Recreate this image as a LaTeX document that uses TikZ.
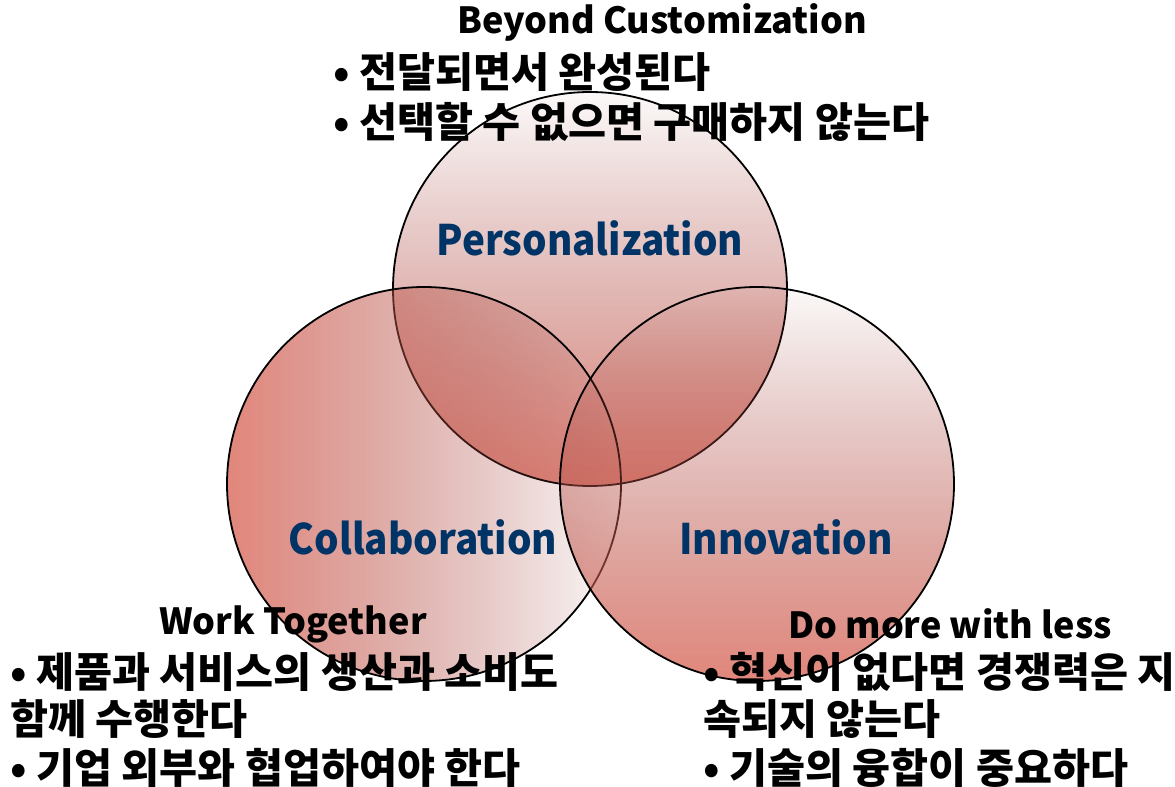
\documentclass[tikz,border=0pt]{standalone}
\usepackage{fontspec}
\setmainfont{Noto Sans CJK KR}
\newfontfamily\narrowfont{Noto Sans CJK KR}[FakeStretch=0.92]
\usetikzlibrary{positioning, fadings}

\definecolor{vennred}{RGB}{218,104,90}
\definecolor{venndark}{RGB}{150,62,58}
\definecolor{keyblue}{RGB}{0,51,102}

\tikzfading[name=fadedown, top color=transparent!97, middle color=transparent!58, bottom color=transparent!20]
\tikzfading[name=fadeleft, left color=transparent!20, middle color=transparent!58, right color=transparent!97]

\tikzset{
    vline/.style={draw=black, line width=1.35pt},
    vdown/.style={top color=venndark, middle color=venndark, bottom color=vennred, path fading=fadedown},
    vleft/.style={left color=vennred, middle color=venndark, right color=venndark, path fading=fadeleft},
    head/.style={font=\bfseries\fontsize{27}{32}\selectfont},
    item/.style={anchor=west, inner sep=0pt, font=\bfseries\fontsize{31}{36}\selectfont},
    keyword/.style={text=keyblue, font=\narrowfont\bfseries\fontsize{31.5}{38}\selectfont}
}

\begin{document}
\begin{tikzpicture}[x=0.75pt, y=-0.75pt]
    \useasboundingbox (0, 0) rectangle (1175, 787);

    \shade [vdown] (590, 289) circle (197);
    \draw [vline] (590, 289) circle (197);
    \shade [vleft] (424, 484) circle (197);
    \draw [vline] (424, 484) circle (197);
    \shade [vdown] (757, 484) circle (197);
    \draw [vline] (757, 484) circle (197);

    \node [keyword] (Kp) at (590, 238) {Personalization};
    \node [keyword] (Kc) at (423, 537) {Collaboration};
    \node [keyword] (Ki) at (786, 537) {Innovation};

    \node [head] (Hp) at (662, 22) {Beyond Customization};
    \node [item] (Ip1) at (333, 72) {• 전달되면서 완성된다};
    \node [item] (Ip2) at (333, 122) {• 선택할 수 없으면 구매하지 않는다};

    \node [head] (Hc) at (293, 624) {Work Together};
    \node [item] (Ic1) at (10, 672) {• 제품과 서비스의 생산과 소비도};
    \node [item] (Ic2) at (10, 719) {함께 수행한다};
    \node [item] (Ic3) at (10, 768) {• 기업 외부와 협업하여야 한다};

    \node [head] (Hi) at (950, 624) {Do more with less};
    \node [item] (Ii1) at (703, 672) {• 혁신이 없다면 경쟁력은 지};
    \node [item] (Ii2) at (703, 719) {속되지 않는다};
    \node [item] (Ii3) at (703, 768) {• 기술의 융합이 중요하다};
\end{tikzpicture}
\end{document}
